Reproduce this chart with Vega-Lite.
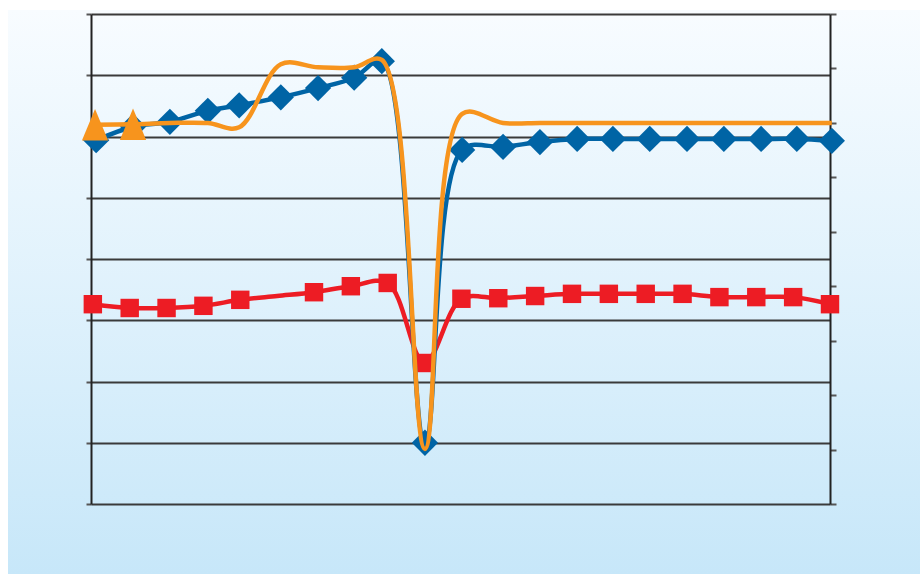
{
  "$schema": "https://vega.github.io/schema/vega-lite/v6.json",
  "width": 912,
  "height": 564,
  "autosize": {"type": "none"},
  "padding": {"left": 8, "top": 10, "right": 0, "bottom": 0},
  "background": "white",
  "config": {
    "view": {
      "stroke": null,
      "fill": {
        "gradient": "linear",
        "x1": 0, "y1": 0, "x2": 0, "y2": 1,
        "stops": [
          {"offset": 0, "color": "#f8fcff"},
          {"offset": 1, "color": "#c7e7f9"}
        ]
      }
    }
  },
  "datasets": {
    "s1": [
      {"x": 1.09, "y": 59.4}, {"x": 2.09, "y": 61.6}, {"x": 3.09, "y": 62.4},
      {"x": 4.12, "y": 64.2}, {"x": 4.97, "y": 65.1}, {"x": 6.10, "y": 66.4},
      {"x": 7.11, "y": 67.9}, {"x": 8.09, "y": 69.6}, {"x": 8.84, "y": 72.3},
      {"x": 10.01, "y": 10.0}, {"x": 11.02, "y": 57.8}, {"x": 12.13, "y": 58.3},
      {"x": 13.13, "y": 59.1}, {"x": 14.14, "y": 59.6}, {"x": 15.11, "y": 59.6},
      {"x": 16.11, "y": 59.6}, {"x": 17.12, "y": 59.6}, {"x": 18.12, "y": 59.6},
      {"x": 19.13, "y": 59.6}, {"x": 20.10, "y": 59.6}, {"x": 21.05, "y": 59.3}
    ],
    "s2": [
      {"x": 1.06, "y": 61.9}, {"x": 2.09, "y": 62.0}, {"x": 3.09, "y": 62.2},
      {"x": 4.12, "y": 62.2}, {"x": 4.97, "y": 61.5}, {"x": 6.10, "y": 71.8},
      {"x": 7.11, "y": 71.3}, {"x": 8.09, "y": 71.3}, {"x": 8.84, "y": 72.5},
      {"x": 10.01, "y": 9.0}, {"x": 11.02, "y": 63.7}, {"x": 12.13, "y": 62.2},
      {"x": 13.13, "y": 62.2}, {"x": 14.14, "y": 62.2}, {"x": 15.11, "y": 62.2},
      {"x": 16.11, "y": 62.2}, {"x": 17.12, "y": 62.2}, {"x": 18.12, "y": 62.2},
      {"x": 19.13, "y": 62.2}, {"x": 20.10, "y": 62.2}, {"x": 21.05, "y": 62.2}
    ],
    "s3": [
      {"x": 1, "y": 36.7}, {"x": 2, "y": 36.0}, {"x": 3, "y": 36.0},
      {"x": 4, "y": 36.4}, {"x": 5, "y": 37.5}, {"x": 6, "y": 38.2},
      {"x": 7, "y": 38.9}, {"x": 8, "y": 40.0}, {"x": 9, "y": 40.6},
      {"x": 10, "y": 25.9}, {"x": 11, "y": 37.7}, {"x": 12, "y": 37.8},
      {"x": 13, "y": 38.2}, {"x": 14, "y": 38.6}, {"x": 15, "y": 38.6},
      {"x": 16, "y": 38.6}, {"x": 17, "y": 38.6}, {"x": 18, "y": 38.0},
      {"x": 19, "y": 38.0}, {"x": 20, "y": 38.0}, {"x": 21, "y": 36.7}
    ]
  },
  "encoding": {
    "x": {
      "field": "x",
      "type": "quantitative",
      "scale": {"domain": [0.95, 21], "range": [83, 822], "nice": false, "zero": false},
      "axis": null
    }
  },
  "layer": [
    {
      "encoding": {
        "y": {
          "field": "y",
          "type": "quantitative",
          "scale": {"domain": [0, 90], "range": [494, 4], "nice": false, "zero": false},
          "axis": {
            "orient": "right",
            "offset": -90,
            "values": [0, 10, 20, 30, 40, 50, 60, 70, 80, 90],
            "grid": false,
            "domain": true,
            "domainColor": "#222222",
            "domainWidth": 2,
            "ticks": true,
            "tickSize": 6,
            "tickColor": "#555555",
            "tickWidth": 2,
            "labels": false,
            "title": null
          }
        }
      },
      "layer": [
        {
          "data": {"name": "s3"},
          "mark": {"type": "line", "color": "#ed1c24", "strokeWidth": 4.5, "interpolate": "catmull-rom"}
        },
        {
          "data": {"name": "s3"},
          "transform": [{"filter": "datum.x != 6"}],
          "mark": {"type": "point", "shape": "square", "filled": true, "size": 340, "color": "#ed1c24", "opacity": 1}
        }
      ]
    },
    {
      "encoding": {
        "y": {
          "field": "y",
          "type": "quantitative",
          "scale": {"domain": [0, 80], "range": [494, 4], "nice": false, "zero": false},
          "axis": {
            "orient": "left",
            "offset": -83,
            "values": [0, 10, 20, 30, 40, 50, 60, 70, 80],
            "grid": true,
            "gridColor": "#3a3a3a",
            "gridWidth": 2,
            "gridOpacity": 1,
            "domain": true,
            "domainColor": "#222222",
            "domainWidth": 2,
            "ticks": true,
            "tickSize": 5,
            "tickColor": "#555555",
            "tickWidth": 2,
            "labels": false,
            "title": null
          }
        }
      },
      "layer": [
        {
          "data": {"name": "s1"},
          "mark": {"type": "line", "color": "#0064a5", "strokeWidth": 4.5, "interpolate": "catmull-rom"}
        },
        {
          "data": {"name": "s1"},
          "mark": {"type": "point", "shape": "diamond", "filled": true, "size": 690, "color": "#0064a5", "opacity": 1}
        },
        {
          "data": {"name": "s2"},
          "mark": {"type": "line", "color": "#f7941d", "strokeWidth": 4.5, "interpolate": "catmull-rom"}
        },
        {
          "data": {"name": "s2"},
          "transform": [{"filter": "datum.x < 2.5"}],
          "mark": {"type": "point", "shape": "M0,-1.2L-1,1.2L1,1.2Z", "filled": true, "size": 690, "color": "#f7941d", "opacity": 1}
        }
      ]
    }
  ],
  "resolve": {"scale": {"y": "independent"}, "axis": {"y": "independent"}}
}
